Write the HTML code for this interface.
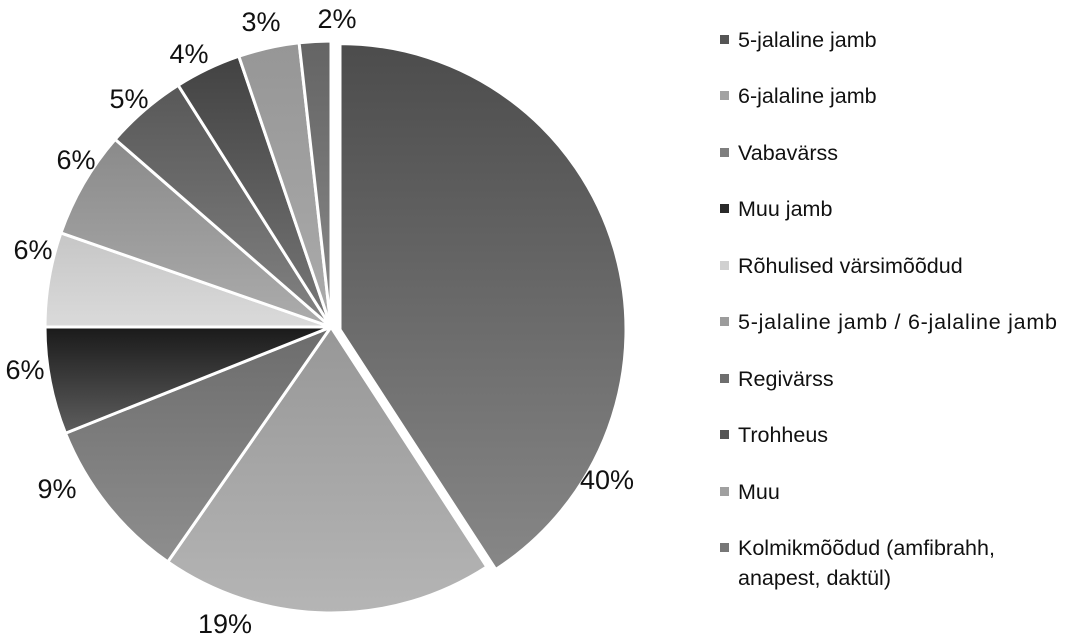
<!DOCTYPE html>
<html><head><meta charset="utf-8"><style>
body{margin:0;background:#fff;width:1069px;height:637px;overflow:hidden}
svg text{font-family:"Liberation Sans",sans-serif;fill:#111}
</style></head><body>
<svg width="1069" height="637" viewBox="0 0 1069 637">
<defs>
<linearGradient id="g0" x1="0" y1="0" x2="0" y2="1"><stop offset="0" stop-color="#4c4c4c"/><stop offset="1" stop-color="#878787"/></linearGradient>
<linearGradient id="g1" x1="0" y1="0" x2="0" y2="1"><stop offset="0" stop-color="#979797"/><stop offset="1" stop-color="#b5b5b5"/></linearGradient>
<linearGradient id="g2" x1="0" y1="0" x2="0" y2="1"><stop offset="0" stop-color="#6c6c6c"/><stop offset="1" stop-color="#8e8e8e"/></linearGradient>
<linearGradient id="g3" x1="0" y1="0" x2="0" y2="1"><stop offset="0" stop-color="#1a1a1a"/><stop offset="1" stop-color="#5e5e5e"/></linearGradient>
<linearGradient id="g4" x1="0" y1="0" x2="0" y2="1"><stop offset="0" stop-color="#c6c6c6"/><stop offset="1" stop-color="#dadada"/></linearGradient>
<linearGradient id="g5" x1="0" y1="0" x2="0" y2="1"><stop offset="0" stop-color="#8a8a8a"/><stop offset="1" stop-color="#acacac"/></linearGradient>
<linearGradient id="g6" x1="0" y1="0" x2="0" y2="1"><stop offset="0" stop-color="#585858"/><stop offset="1" stop-color="#828282"/></linearGradient>
<linearGradient id="g7" x1="0" y1="0" x2="0" y2="1"><stop offset="0" stop-color="#424242"/><stop offset="1" stop-color="#787878"/></linearGradient>
<linearGradient id="g8" x1="0" y1="0" x2="0" y2="1"><stop offset="0" stop-color="#969696"/><stop offset="1" stop-color="#ababab"/></linearGradient>
<linearGradient id="g9" x1="0" y1="0" x2="0" y2="1"><stop offset="0" stop-color="#646464"/><stop offset="1" stop-color="#8a8a8a"/></linearGradient>
</defs>
<g id="pie" stroke="#fff" stroke-width="3" stroke-linejoin="round"></g>
<g font-size="27">
<text x="607" y="489" text-anchor="middle">40%</text>
<text x="225" y="633" text-anchor="middle">19%</text>
<text x="57" y="498" text-anchor="middle">9%</text>
<text x="25" y="379" text-anchor="middle">6%</text>
<text x="33" y="259" text-anchor="middle">6%</text>
<text x="76" y="169" text-anchor="middle">6%</text>
<text x="129" y="108" text-anchor="middle">5%</text>
<text x="189" y="63" text-anchor="middle">4%</text>
<text x="261" y="31" text-anchor="middle">3%</text>
<text x="337" y="28" text-anchor="middle">2%</text>
</g>
<g font-size="21.5">
<rect x="720" y="35" width="9" height="9" fill="#555"/><text x="738" y="47">5-jalaline jamb</text>
<rect x="720" y="91" width="9" height="9" fill="#a2a2a2"/><text x="738" y="103">6-jalaline jamb</text>
<rect x="720" y="148" width="9" height="9" fill="#7e7e7e"/><text x="738" y="160">Vabavärss</text>
<rect x="720" y="204" width="9" height="9" fill="#2a2a2a"/><text x="738" y="216">Muu jamb</text>
<rect x="720" y="261" width="9" height="9" fill="#d0d0d0"/><text x="738" y="273">Rõhulised värsimõõdud</text>
<rect x="720" y="317" width="9" height="9" fill="#9c9c9c"/><text x="738" y="329" textLength="319">5-jalaline jamb / 6-jalaline jamb</text>
<rect x="720" y="374" width="9" height="9" fill="#6e6e6e"/><text x="738" y="386">Regivärss</text>
<rect x="720" y="430" width="9" height="9" fill="#555"/><text x="738" y="442">Trohheus</text>
<rect x="720" y="487" width="9" height="9" fill="#a0a0a0"/><text x="738" y="499">Muu</text>
<rect x="720" y="543" width="9" height="9" fill="#777"/><text x="738" y="555">Kolmikmõõdud (amfibrahh,</text>
<text x="738" y="585">anapest, daktül)</text>
</g>
</svg>
<script>
var b=[0,147,214.8,248.2,270,289.2,311,327.7,341.2,353.6,360];
var cx=331,cy=327,r=286,g=document.getElementById('pie'),s='';
function pt(x,y,a){a=a*Math.PI/180;return (x+r*Math.sin(a)).toFixed(2)+','+(y-r*Math.cos(a)).toFixed(2);}
for(var i=0;i<10;i++){var x=cx,y=cy;if(i==0){x+=9;y+=2.6;}
var a0=b[i],a1=b[i+1],lg=(a1-a0)>180?1:0;
s+='<path fill="url(#g'+i+')" d="M'+x+','+y+' L'+pt(x,y,a0)+' A'+r+','+r+' 0 '+lg+' 1 '+pt(x,y,a1)+' Z"/>';}
g.innerHTML=s;
</script>
</body></html>
